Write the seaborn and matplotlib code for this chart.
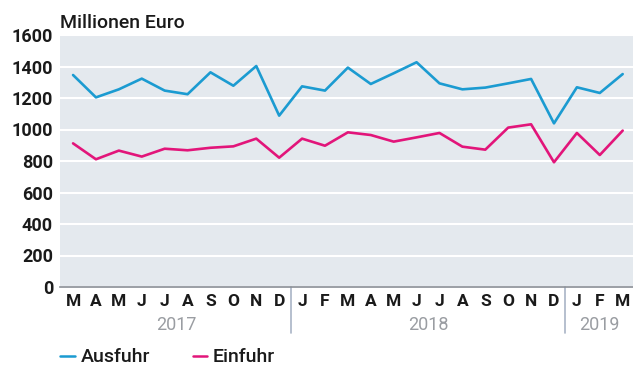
import matplotlib
matplotlib.use("Agg")
import matplotlib.pyplot as plt
import seaborn as sns
import pandas as pd

months = ["M", "A", "M", "J", "J", "A", "S", "O", "N", "D",
          "J", "F", "M", "A", "M", "J", "J", "A", "S", "O", "N", "D",
          "J", "F", "M"]
years = ["2017", "2018", "2019"]
year_months = [10, 12, 3]

ausfuhr = [1346, 1204, 1255, 1323, 1247, 1224, 1363, 1278, 1403, 1088,
           1274, 1247, 1393, 1289, 1357, 1427, 1293, 1255, 1266, 1293, 1321, 1039,
           1268, 1232, 1352]
einfuhr = [912, 811, 866, 828, 878, 868, 884, 893, 942, 821,
           942, 897, 982, 965, 923, 950, 978, 891, 872, 1012, 1033, 792,
           978, 838, 993]

yticks = [0, 200, 400, 600, 800, 1000, 1200, 1400, 1600]

sns.set_theme(style="white")
plt.rcParams["font.family"] = ["Roboto", "DejaVu Sans"]

BLUE = "#1b9bd1"
PINK = "#e2157a"
BG = "#e4e9ee"
DARK = "#1a1a1a"

df = pd.DataFrame({
    "idx": list(range(len(months))) * 2,
    "wert": ausfuhr + einfuhr,
    "serie": ["Ausfuhr"] * len(months) + ["Einfuhr"] * len(months),
})

W, H = 633, 365
fig = plt.figure(figsize=(W / 100, H / 100), dpi=100)
ax = fig.add_axes([60 / W, 1 - 287 / H, 573 / W, 252 / H])
ax.set_facecolor(BG)

sns.lineplot(data=df, x="idx", y="wert", hue="serie",
             palette={"Ausfuhr": BLUE, "Einfuhr": PINK},
             linewidth=1.9, ax=ax, legend=False, zorder=3)

ax.set_ylim(0, 1600)
ax.set_xlim(-0.57, 24.45)
ax.set_yticks(yticks)
ax.set_yticklabels([str(v) for v in yticks], fontsize=13, fontweight="bold",
                   color=DARK)
ax.yaxis.grid(True, color="white", linewidth=1.5, zorder=1)
ax.xaxis.grid(False)
ax.set_axisbelow(True)
for s in ["top", "right", "left"]:
    ax.spines[s].set_visible(False)
ax.spines["bottom"].set_color("#8a8f96")
ax.spines["bottom"].set_linewidth(1.2)
ax.tick_params(axis="y", length=0, pad=5)
ax.tick_params(axis="x", length=0, pad=5)
ax.set_xticks(range(len(months)))
ax.set_xticklabels(months, fontsize=12.5, fontweight="bold", color=DARK)
ax.set_xlabel("")
ax.set_ylabel("")

# year labels and separators below the axis
trans = ax.get_xaxis_transform()
start = 0
for i, (yr, n) in enumerate(zip(years, year_months)):
    center = start + (n - 1) / 2
    ax.text(center, -38.5 / 252, yr, transform=trans, ha="center", va="center",
            fontsize=13, color="#9a9da2")
    if i > 0:
        ax.plot([start - 0.5, start - 0.5], [0, -46 / 252], transform=trans,
                color="#a9b4c6", linewidth=1.2, clip_on=False)
    start += n

fig.text(60 / W, 1 - 28 / H, "Millionen Euro", fontsize=14, fontweight="medium",
         color=DARK, ha="left", va="baseline")

# legend
ly = 1 - 356 / H
tb = 1 - 362 / H
fig.add_artist(plt.Line2D([60 / W, 75 / W], [ly, ly], color=BLUE, linewidth=1.8))
fig.text(81 / W, tb, "Ausfuhr", fontsize=14, fontweight="medium", color=DARK,
         ha="left", va="baseline")
fig.add_artist(plt.Line2D([193 / W, 207 / W], [ly, ly], color=PINK, linewidth=1.8))
fig.text(213 / W, tb, "Einfuhr", fontsize=14, fontweight="medium", color=DARK,
         ha="left", va="baseline")

fig.savefig("out.png", dpi=100)
